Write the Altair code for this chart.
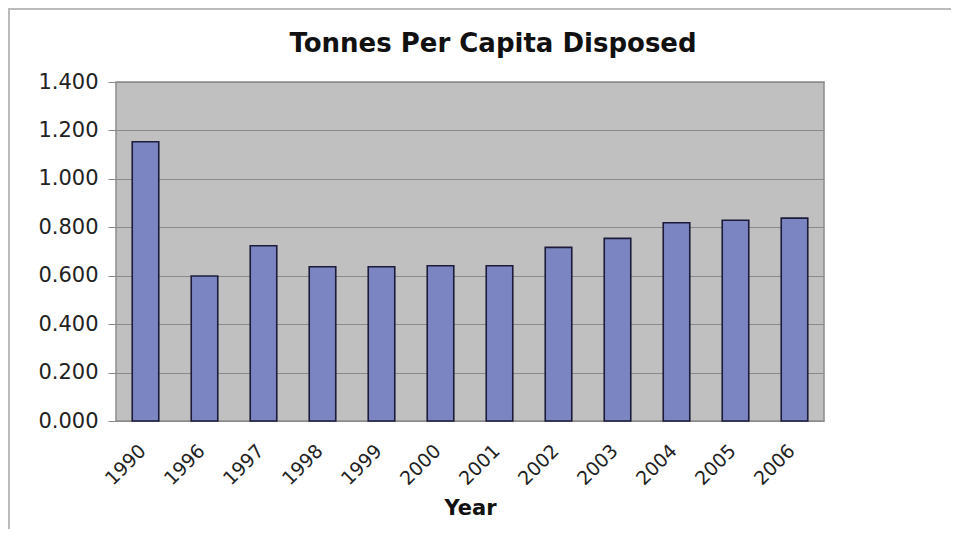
import altair as alt
import pandas as pd

years = ["1990", "1996", "1997", "1998", "1999", "2000", "2001", "2002", "2003", "2004", "2005", "2006"]
tonnes = [1.153, 0.599, 0.724, 0.637, 0.637, 0.641, 0.641, 0.717, 0.754, 0.819, 0.829, 0.838]

df = pd.DataFrame({"Year": years, "Tonnes": tonnes})
FONT = "DejaVu Sans"

bars = alt.Chart(df).mark_bar(
    color="#7A85C1", stroke="#1C1C3A", strokeWidth=1.6
).encode(
    x=alt.X("Year:N", sort=years, title="Year",
            scale=alt.Scale(paddingInner=0.55, paddingOuter=0.275),
            axis=alt.Axis(labelAngle=-45, labelFont=FONT, labelFontSize=19,
                          labelColor="#222222", ticks=False, domain=False,
                          labelPadding=20, labelOffset=-9, titleFont=FONT, titleFontSize=21,
                          titleFontWeight="bold", titleColor="#111111",
                          titlePadding=9)),
    y=alt.Y("Tonnes:Q", title=None,
            scale=alt.Scale(domain=[0, 1.4], nice=False),
            axis=alt.Axis(values=[0, 0.2, 0.4, 0.6, 0.8, 1.0, 1.2, 1.4], format=".3f",
                          labelFont=FONT, labelFontSize=21, labelColor="#222222",
                          grid=True, gridColor="#8A8A8A", gridWidth=1.2,
                          domain=False, tickColor="#8A8A8A", tickSize=8,
                          labelPadding=10)),
)

frame = alt.Chart(df).mark_rect(
    fill=None, stroke="#BBBBBB", strokeWidth=2, clip=False
).encode(
    x=alt.value(-107), x2=alt.value(1200), y=alt.value(-73), y2=alt.value(800)
)

chart = alt.layer(frame, bars).properties(
    width=708, height=339,
    autosize=alt.AutoSizeParams(type="none"),
    padding={"left": 108, "top": 74, "right": 127, "bottom": 108},
    title=alt.TitleParams("Tonnes Per Capita Disposed", font=FONT, fontSize=26,
                          fontWeight="bold", color="#111111", anchor="middle",
                          dx=23, offset=-49),
    background="white",
).configure_view(fill="#C0C0C0", stroke="#8C8C8C", strokeWidth=1.5)

chart.save("out.html", embed_options={"renderer": "svg", "actions": False})
